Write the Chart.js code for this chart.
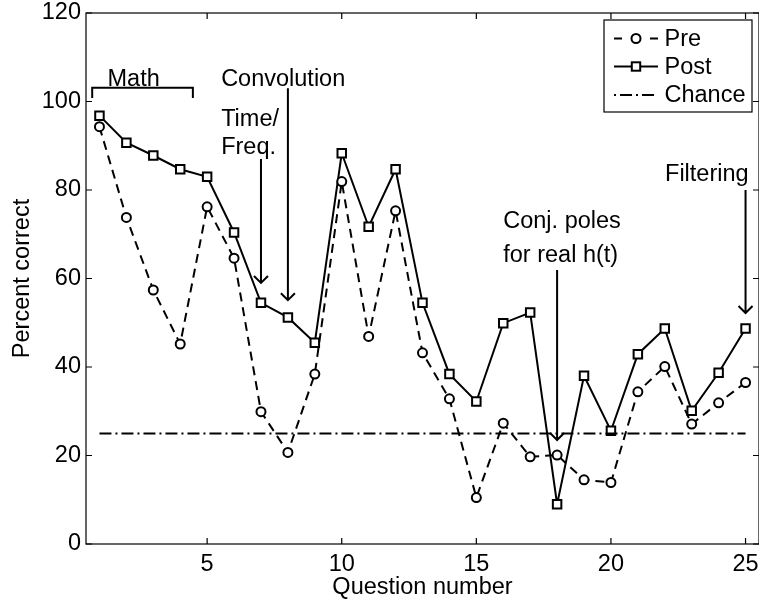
<!DOCTYPE html>
<html>
<head>
<meta charset="utf-8">
<script src="https://cdn.jsdelivr.net/npm/chart.js@4.4.1/dist/chart.umd.min.js"></script>
<style>
  html, body { margin: 0; padding: 0; background: #fff; overflow: hidden; }
  canvas { display: block; }
</style>
</head>
<body>
<canvas id="quizChart" width="767" height="602"></canvas>
<script>
// question numbers and scores
const questions = [1, 2, 3, 4, 5, 6, 7, 8, 9, 10, 11, 12, 13, 14, 15, 16, 17, 18, 19, 20, 21, 22, 23, 24, 25];
const preScores = [94.3, 73.8, 57.4, 45.2, 76.2, 64.6, 29.9, 20.7, 38.4, 81.9, 46.9, 75.3, 43.2,
                   32.8, 10.5, 27.3, 19.7, 20.1, 14.5, 13.9, 34.4, 40.1, 27.1, 31.9, 36.5];
const postScores = [96.8, 90.7, 87.8, 84.7, 83.0, 70.4, 54.5, 51.2, 45.5, 88.3, 71.7, 84.7, 54.5,
                    38.4, 32.2, 49.9, 52.3, 9.0, 38.0, 25.6, 42.9, 48.7, 30.1, 38.7, 48.7];
const chanceLevel = 25;
const xTicks = [5, 10, 15, 20, 25];
const yTicks = [0, 20, 40, 60, 80, 100, 120];

// annotation text (anchored in data units) and arrows
const notes = [
    { text: 'Math', x: 1.3, y: 103.5 },
    { text: 'Convolution', x: 5.52, y: 103.5 },
    { text: 'Time/', x: 5.52, y: 94.5 },
    { text: 'Freq.', x: 5.52, y: 88.2 },
    { text: 'Conj. poles', x: 16.0, y: 71.4 },
    { text: 'for real h(t)', x: 16.0, y: 63.7 },
    { text: 'Filtering', x: 22.01, y: 82.0 },
];
const arrows = [
    { x: 7, from: 87.0, to: 59.0 },
    { x: 8, from: 103.0, to: 55.1 },
    { x: 18, from: 61.9, to: 23.5 },
    { x: 25, from: 80.0, to: 52.2 },
];
const mathBracket = { from: 0.73, to: 4.47, top: 103.1, bottom: 100.8 };

const FONT = 'Liberation Sans, Arial, Helvetica, sans-serif';
const FSIZE = 23.5;

const toPoints = (ys) => questions.map((q, i) => ({ x: q, y: ys[i] }));

const framePlugin = {
    id: 'frame',
    afterDatasetsDraw(chart) {
        const { ctx, chartArea: a, scales: { x, y } } = chart;
        ctx.save();
        ctx.strokeStyle = '#000';
        ctx.lineWidth = 1.2;
        ctx.strokeRect(a.left, a.top, a.right - a.left, a.bottom - a.top);
        const tl = 6;
        ctx.beginPath();
        xTicks.forEach((v) => {
            const px = x.getPixelForValue(v);
            ctx.moveTo(px, a.bottom); ctx.lineTo(px, a.bottom - tl);
            ctx.moveTo(px, a.top); ctx.lineTo(px, a.top + tl);
        });
        yTicks.forEach((v) => {
            const py = y.getPixelForValue(v);
            ctx.moveTo(a.left, py); ctx.lineTo(a.left + tl, py);
            ctx.moveTo(a.right, py); ctx.lineTo(a.right - tl, py);
        });
        ctx.stroke();

        // annotations
        ctx.fillStyle = '#000';
        ctx.font = FSIZE + 'px ' + FONT;
        ctx.textAlign = 'left';
        ctx.textBaseline = 'alphabetic';
        notes.forEach((n) => {
            ctx.fillText(n.text, x.getPixelForValue(n.x), y.getPixelForValue(n.y));
        });
        ctx.lineWidth = 2;
        arrows.forEach((ar) => {
            const px = x.getPixelForValue(ar.x);
            const y0 = y.getPixelForValue(ar.from);
            const y1 = y.getPixelForValue(ar.to);
            ctx.beginPath();
            ctx.moveTo(px, y0); ctx.lineTo(px, y1);
            ctx.moveTo(px - 7, y1 - 7); ctx.lineTo(px, y1); ctx.lineTo(px + 7, y1 - 7);
            ctx.stroke();
        });
        const bx0 = x.getPixelForValue(mathBracket.from);
        const bx1 = x.getPixelForValue(mathBracket.to);
        const by0 = y.getPixelForValue(mathBracket.top);
        const by1 = y.getPixelForValue(mathBracket.bottom);
        ctx.beginPath();
        ctx.moveTo(bx0, by1); ctx.lineTo(bx0, by0); ctx.lineTo(bx1, by0); ctx.lineTo(bx1, by1);
        ctx.stroke();

        // legend box
        const lx = a.right - 155, ly = a.top + 7, lw = 148, lh = 92;
        ctx.fillStyle = '#fff';
        ctx.fillRect(lx, ly, lw, lh);
        ctx.lineWidth = 1.2;
        ctx.strokeRect(lx, ly, lw, lh);
        const sx0 = lx + 10, sx1 = lx + 54, mx = lx + 32;
        const rows = [ly + 18.5, ly + 46.5, ly + 75];
        ctx.lineWidth = 2;
        // Pre
        ctx.setLineDash([8, 28]);
        ctx.beginPath(); ctx.moveTo(sx0, rows[0]); ctx.lineTo(sx1, rows[0]); ctx.stroke();
        ctx.setLineDash([]);
        ctx.beginPath(); ctx.arc(mx, rows[0], 4.5, 0, Math.PI * 2);
        ctx.fillStyle = '#fff'; ctx.fill(); ctx.stroke();
        // Post
        ctx.beginPath(); ctx.moveTo(sx0, rows[1]); ctx.lineTo(sx1, rows[1]); ctx.stroke();
        ctx.fillStyle = '#fff';
        ctx.fillRect(mx - 4.2, rows[1] - 4.2, 8.4, 8.4);
        ctx.strokeRect(mx - 4.2, rows[1] - 4.2, 8.4, 8.4);
        // Chance
        ctx.setLineDash([2, 4, 12, 4]);
        ctx.beginPath(); ctx.moveTo(sx0, rows[2]); ctx.lineTo(sx1, rows[2]); ctx.stroke();
        ctx.setLineDash([]);
        ctx.fillStyle = '#000';
        ctx.textBaseline = 'middle';
        ['Pre', 'Post', 'Chance'].forEach((t, i) => ctx.fillText(t, lx + 60.5, rows[i] + 1));
        ctx.restore();
    }
};

new Chart(document.getElementById('quizChart'), {
    type: 'line',
    data: {
        datasets: [
            {
                label: 'Chance',
                data: [{ x: questions[0], y: chanceLevel }, { x: questions[questions.length - 1], y: chanceLevel }],
                borderColor: '#000',
                borderWidth: 2,
                borderDash: [12, 4, 2, 4],
                pointRadius: 0,
            },
            {
                label: 'Pre',
                data: toPoints(preScores),
                borderColor: '#000',
                borderWidth: 2,
                borderDash: [9, 6],
                pointStyle: 'circle',
                pointRadius: 4.5,
                pointBorderWidth: 2,
                pointBorderColor: '#000',
                pointBackgroundColor: '#fff',
            },
            {
                label: 'Post',
                data: toPoints(postScores),
                borderColor: '#000',
                borderWidth: 2,
                pointStyle: 'rect',
                pointRadius: 6,
                pointBorderWidth: 2,
                pointBorderColor: '#000',
                pointBackgroundColor: '#fff',
            },
        ],
    },
    options: {
        responsive: false,
        animation: false,
        devicePixelRatio: 1,
        layout: { padding: { top: 13, right: 2, left: 0, bottom: 0 } },
        plugins: {
            legend: { display: false },
            tooltip: { enabled: false },
        },
        scales: {
            x: {
                type: 'linear',
                min: 0.5,
                max: 25.5,
                grid: { display: false, drawTicks: false },
                border: { display: false },
                afterBuildTicks: (scale) => { scale.ticks = xTicks.map((v) => ({ value: v })); },
                afterFit: (scale) => {
                    scale.height = 58;
                    scale.paddingLeft = 0;
                    scale.paddingRight = 0;
                },
                ticks: { color: '#000', padding: 6, maxRotation: 0, font: { family: FONT, size: FSIZE } },
                title: { display: true, text: 'Question number', color: '#000', padding: { top: 0, bottom: 0 },
                         font: { family: FONT, size: FSIZE } },
            },
            y: {
                min: 0,
                max: 120,
                grid: { display: false, drawTicks: false },
                border: { display: false },
                afterBuildTicks: (scale) => { scale.ticks = yTicks.map((v) => ({ value: v })); },
                afterFit: (scale) => {
                    scale.width = 86;
                    scale.paddingTop = 0;
                    scale.paddingBottom = 0;
                },
                ticks: { color: '#000', padding: 5, font: { family: FONT, size: FSIZE } },
                title: { display: true, text: 'Percent correct', color: '#000', padding: { top: 8, bottom: 0 },
                         font: { family: FONT, size: FSIZE } },
            },
        },
    },
    plugins: [framePlugin],
});
</script>
</body>
</html>
